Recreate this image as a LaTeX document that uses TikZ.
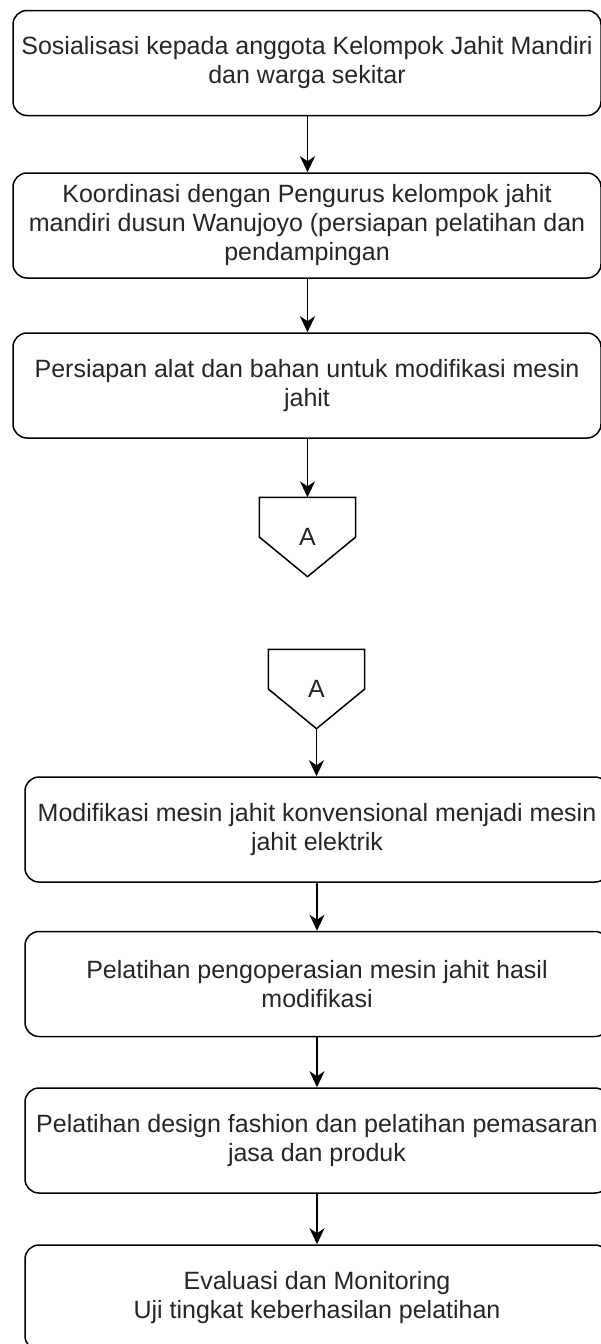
\documentclass[tikz,border=0pt]{standalone}
\usepackage{fontspec}
\setmainfont{Liberation Sans}
\usetikzlibrary{arrows.meta}
\begin{document}
\begin{tikzpicture}[x=1pt,y=-1pt,
  stepbox/.style={draw, rounded corners=14pt, line width=1.5pt, minimum width=588pt,
    minimum height=105pt, align=center, inner sep=0pt, text=black!85,
    font=\fontsize{25}{29}\selectfont},
  conn/.style={draw=none, minimum width=96pt, minimum height=79pt, inner sep=0pt,
    text=black!85, font=\fontsize{25}{29}\selectfont},
  connline/.style={line width=1.5pt, line join=miter},
  flow/.style={line width=1.5pt, -{Stealth[length=16pt,width=15pt,inset=5pt]}}]
\useasboundingbox (0,0) rectangle (600,1344);

\node[stepbox] (b1) at (307,63) {Sosialisasi kepada anggota Kelompok Jahit Mandiri\\dan warga sekitar};
\node[stepbox] (b2) at (307,225.5) {Koordinasi dengan Pengurus kelompok jahit\\mandiri dusun Wanujoyo (persiapan pelatihan dan\\pendampingan};
\node[stepbox] (b3) at (307,385.5) {Persiapan alat dan bahan untuk modifikasi mesin\\jahit};

\node[conn] (A1) at (307.5,537) {A};
\draw[connline] (A1.north west) -- (A1.north east) -- (A1.east) -- (A1.south) -- (A1.west) -- cycle;

\node[conn] (A2) at (316.5,689) {A};
\draw[connline] (A2.north west) -- (A2.north east) -- (A2.east) -- (A2.south) -- (A2.west) -- cycle;

\node[stepbox, minimum width=584pt] (b4) at (317,829.5) {Modifikasi mesin jahit konvensional menjadi mesin\\jahit elektrik};
\node[stepbox, minimum width=584pt] (b5) at (317,984) {Pelatihan pengoperasian mesin jahit hasil\\modifikasi};
\node[stepbox, minimum width=584pt] (b6) at (317,1140.5) {Pelatihan design fashion dan pelatihan pemasaran\\jasa dan produk};
\node[stepbox, minimum width=584pt] (b7) at (317,1297.5) {Evaluasi dan Monitoring\\Uji tingkat keberhasilan pelatihan};

\draw[flow] (b1.south -| A1) -- (b2.north -| A1);
\draw[flow] (b2.south -| A1) -- (b3.north -| A1);
\draw[flow] (b3.south -| A1) -- (A1.north);
\draw[flow] (A2.south) -- (b4.north -| A2);
\draw[flow] (b4) -- (b5);
\draw[flow] (b5) -- (b6);
\draw[flow] (b6) -- (b7);
\end{tikzpicture}
\end{document}
